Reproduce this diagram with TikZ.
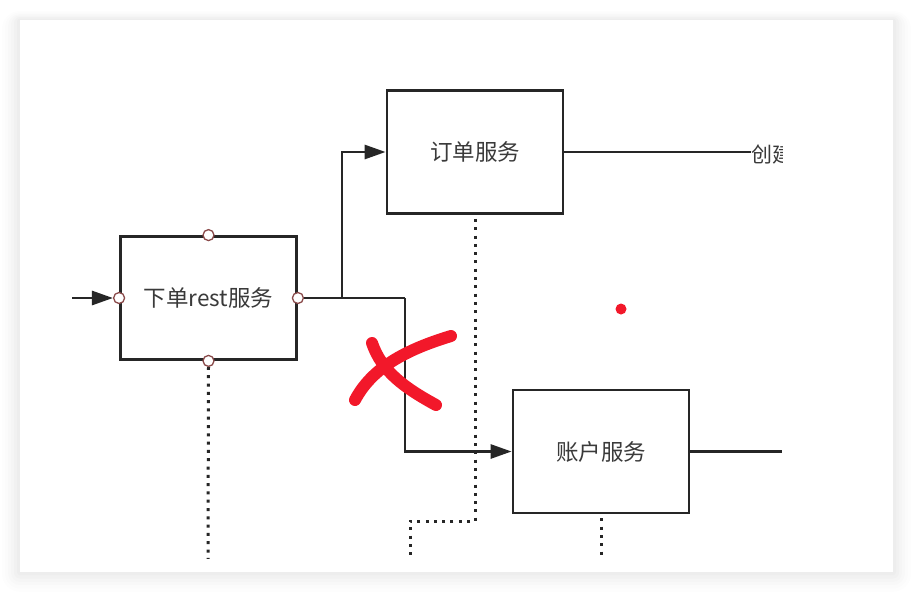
\documentclass[tikz,border=0pt]{standalone}
\usepackage{fontspec}
\setmainfont{Noto Sans CJK SC}
\usetikzlibrary{arrows.meta}
\definecolor{ink}{HTML}{262626}
\definecolor{txt}{HTML}{3A3A3A}
\definecolor{redpen}{HTML}{F2182A}
\definecolor{portc}{HTML}{8A4A4A}
\tikzset{
  svc/.style={draw=ink, line width=2.8pt, fill=white, minimum width=176pt, minimum height=123pt, inner sep=0pt, font=\fontsize{22.5}{26}\selectfont, text=txt},
  port/.style={circle, draw=portc, line width=1.3pt, fill=white, minimum size=11pt, inner sep=0pt},
  wire/.style={draw=ink, line width=2.8pt},
  arr/.style={wire, -{Triangle[length=21pt,width=14pt]}},
  dots/.style={draw=ink, line width=3pt, dash pattern=on 3pt off 5.3pt},
  xmark/.style={draw=redpen, line width=12pt, line cap=round},
}
\begin{document}
\begin{tikzpicture}[x=1pt,y=-1pt]
\useasboundingbox (0,0) rectangle (913,592);
% card shadow
\foreach \i/\o in {18/0.006,15/0.008,12/0.01,9/0.012,6/0.014,3/0.016}{
  \fill[black, opacity=\o, rounded corners=\i pt] (20-\i,20-\i*0.5) rectangle (893+\i,572+\i*1.1);
}
\fill[white] (20,20) rectangle (893,572);
\begin{scope}
\clip (20,20) rectangle (782,558);
% dotted lines
\coordinate (d1) at (475,521);
\coordinate (d2) at (410,560);
\coordinate (d3) at (208,560);
\coordinate (d4) at (601,556);
% nodes
\node[svc] (A) at (208.5,298) {下单rest服务};
\node[svc] (B) at (475,152) {订单服务};
\node[svc] (C) at (601,451.5) {账户服务};
\draw[dots] (B.south) ++(0,4) -- (d1) -| (d2);
\draw[dots] (A.south) ++(0,6) -- (d3);
\draw[dots] (C.south) ++(0,4) -- (d4);
\node[port] (pt) at (A.north) {};
\node[port] (pb) at (A.south) {};
\node[port] (pl) at (A.west) {};
\node[port] (pr) at (A.east) {};
\coordinate (in) at (72,298);
\coordinate (j) at (342,298);
\coordinate (k) at (405,298);
\coordinate (cout) at (782,451.5);
\node[anchor=west, inner sep=0pt, text=txt, font=\fontsize{21}{24}\selectfont] (lbl) at (751,155) {创建};
\draw[arr] (in) -- (pl);
\draw[wire] (pr) -- (k);
\draw[arr] (j) |- (B.west);
\draw[arr] (k) |- (C.west);
\draw[wire] (B.east) -- (lbl.west |- B.east);
\draw[wire] (C.east) -- (cout);
% red mark
\draw[xmark] (372,343) .. controls (382,372) and (405,388) .. (436,405);
\draw[xmark] (355,400) .. controls (372,368) and (405,350) .. (451,336);
\fill[redpen] (621,309) circle (5.5);
\end{scope}
\end{tikzpicture}
\end{document}
